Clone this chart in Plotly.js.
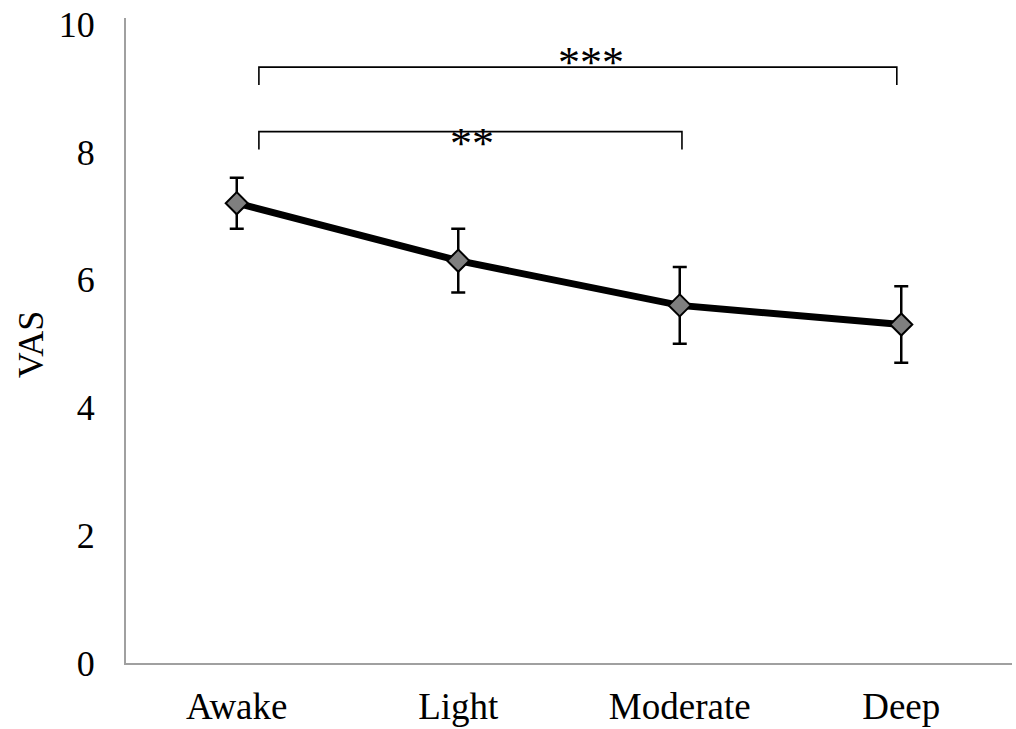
<!DOCTYPE html>
<html>
<head>
<meta charset="utf-8">
<script src="https://cdn.plot.ly/plotly-3.0.1.min.js"></script>
<style>html,body{margin:0;padding:0;background:#fff;}#chart{width:1016px;height:729px;}</style>
</head>
<body>
<div id="chart"></div>
<script>
const categories = ["Awake", "Light", "Moderate", "Deep"];
const vasMean = [7.2, 6.3, 5.6, 5.3];
const vasError = [0.4, 0.5, 0.6, 0.6];
const yTickValues = [0, 2, 4, 6, 8, 10];
const yTitle = "VAS";

const bracketStart = [0.1, 0.1];
const bracketEnd = [2.01, 2.98];
const bracketLevel = [8.32, 9.33];
const bracketDrop = 0.28;
const bracketLabels = ["**", "***"];
const labelX = [1.06, 1.6];
const labelY = [8.14, 9.4];

const serif = "Liberation Serif, Times New Roman, serif";

const trace = {
  x: categories,
  y: vasMean,
  type: "scatter",
  mode: "lines+markers",
  line: {color: "#000000", width: 7},
  marker: {symbol: "diamond", size: 17, color: "#7f7f7f", line: {color: "#000000", width: 2}},
  error_y: {type: "data", array: vasError, visible: true, color: "#000000", thickness: 2.5, width: 7},
  showlegend: false,
  hoverinfo: "x+y"
};

const shapes = [];
for (let i = 0; i < bracketStart.length; i++) {
  const lvl = bracketLevel[i];
  shapes.push({type: "path", xref: "x", yref: "y",
    path: "M " + bracketStart[i] + "," + (lvl - bracketDrop) +
          " L " + bracketStart[i] + "," + lvl +
          " L " + bracketEnd[i] + "," + lvl +
          " L " + bracketEnd[i] + "," + (lvl - bracketDrop),
    line: {color: "#000000", width: 1.6}});
}

const annotations = bracketLabels.map((t, i) => ({
  x: labelX[i], y: labelY[i], xref: "x", yref: "y", text: t, showarrow: false,
  font: {family: serif, size: 44, color: "#000000"}, xanchor: "center", yanchor: "middle"
}));
annotations.push({
  x: -0.107, y: 0.493, xref: "paper", yref: "paper", text: yTitle, showarrow: false,
  textangle: -90, xanchor: "center", yanchor: "middle",
  font: {family: serif, size: 36, color: "#000000"}
});

const layout = {
  width: 1016, height: 729,
  margin: {l: 126, r: 4, t: 18, b: 66},
  paper_bgcolor: "#ffffff", plot_bgcolor: "#ffffff",
  font: {family: serif, size: 36, color: "#000000"},
  xaxis: {
    type: "category", range: [-0.5, 3.5],
    showline: true, linecolor: "#a0a0a0", linewidth: 2,
    showgrid: false, zeroline: false, ticks: "", ticklabelstandoff: 10,
    tickfont: {family: serif, size: 37, color: "#000000"}
  },
  yaxis: {
    range: [0, 10.1], tickvals: yTickValues, ticktext: yTickValues.map(String),
    showline: true, linecolor: "#a0a0a0", linewidth: 2,
    showgrid: false, zeroline: false, ticks: "", ticklabelstandoff: 22,
    tickfont: {family: serif, size: 36, color: "#000000"}
  },
  shapes: shapes,
  annotations: annotations
};

Plotly.newPlot("chart", [trace], layout, {displayModeBar: false, staticPlot: true});
</script>
</body>
</html>
